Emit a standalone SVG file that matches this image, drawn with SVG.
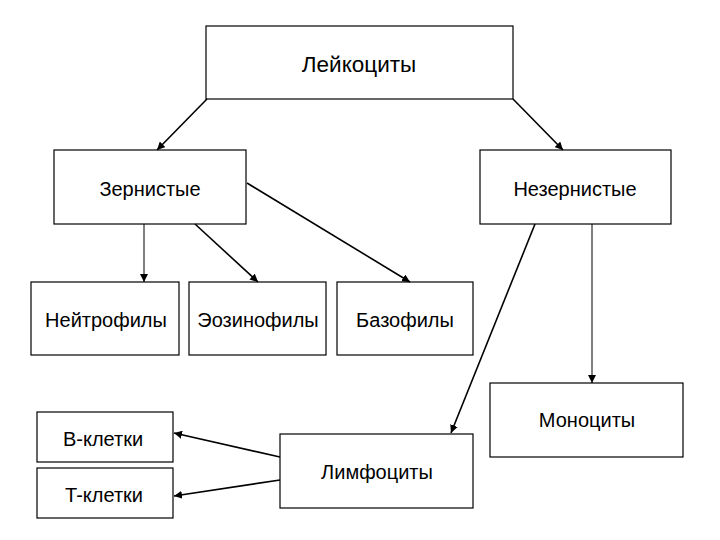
<svg xmlns="http://www.w3.org/2000/svg" width="720" height="540" viewBox="0 0 720 540">
<style>
.box{fill:#fff;stroke:#000;stroke-width:1.2}
.t{font-family:"Liberation Sans",Arial,sans-serif;font-size:20px;fill:#000;text-anchor:middle;dominant-baseline:central}
.c{stroke:#000;stroke-width:1.6;fill:none;marker-end:url(#ah)}
.v{stroke:#000;stroke-width:1;fill:none;marker-end:url(#ah)}
</style>
<defs>
<marker id="ah" viewBox="0 0 10 10" refX="10" refY="5" markerWidth="8" markerHeight="8" markerUnits="userSpaceOnUse" orient="auto">
<path d="M0,0 L10,5 L0,10 z" fill="#000"/>
</marker>
</defs>
<rect width="720" height="540" fill="#fff"/>
<g id="leukocytes"><rect class="box" x="206" y="26" width="307" height="73"/><text class="t" x="359" y="64" style="font-size:22.5px">Лейкоциты</text></g>
<g id="granular"><rect class="box" x="54" y="150" width="192" height="74"/><text class="t" x="150" y="189">Зернистые</text></g>
<g id="agranular"><rect class="box" x="480" y="150" width="191" height="74"/><text class="t" x="575" y="189">Незернистые</text></g>
<g id="neutrophils"><rect class="box" x="31" y="282" width="148" height="73"/><text class="t" x="106" y="320">Нейтрофилы</text></g>
<g id="eosinophils"><rect class="box" x="189" y="282" width="137" height="73"/><text class="t" x="258" y="320">Эозинофилы</text></g>
<g id="basophils"><rect class="box" x="337" y="282" width="136" height="73"/><text class="t" x="405" y="320">Базофилы</text></g>
<g id="monocytes"><rect class="box" x="490" y="383" width="193" height="74"/><text class="t" x="587" y="420">Моноциты</text></g>
<g id="lymphocytes"><rect class="box" x="280" y="434" width="193" height="74"/><text class="t" x="377" y="472">Лимфоциты</text></g>
<g id="bcells"><rect class="box" x="37" y="412" width="136" height="50"/><text class="t" x="103" y="439">B-клетки</text></g>
<g id="tcells"><rect class="box" x="37" y="468" width="136" height="50"/><text class="t" x="104" y="495">T-клетки</text></g>
<g id="connectors">
<line class="c" x1="207" y1="99" x2="157" y2="150"/>
<line class="c" x1="513" y1="99" x2="563" y2="150"/>
<line class="v" x1="144" y1="224" x2="144" y2="282"/>
<line class="c" x1="195" y1="224" x2="258" y2="282"/>
<line class="c" x1="247" y1="183" x2="410" y2="282"/>
<line class="c" x1="535" y1="224" x2="451" y2="433"/>
<line class="v" x1="592" y1="224" x2="592" y2="383"/>
<line class="c" x1="280" y1="457" x2="174" y2="433"/>
<line class="c" x1="280" y1="480" x2="174" y2="496"/>
</g>
</svg>
